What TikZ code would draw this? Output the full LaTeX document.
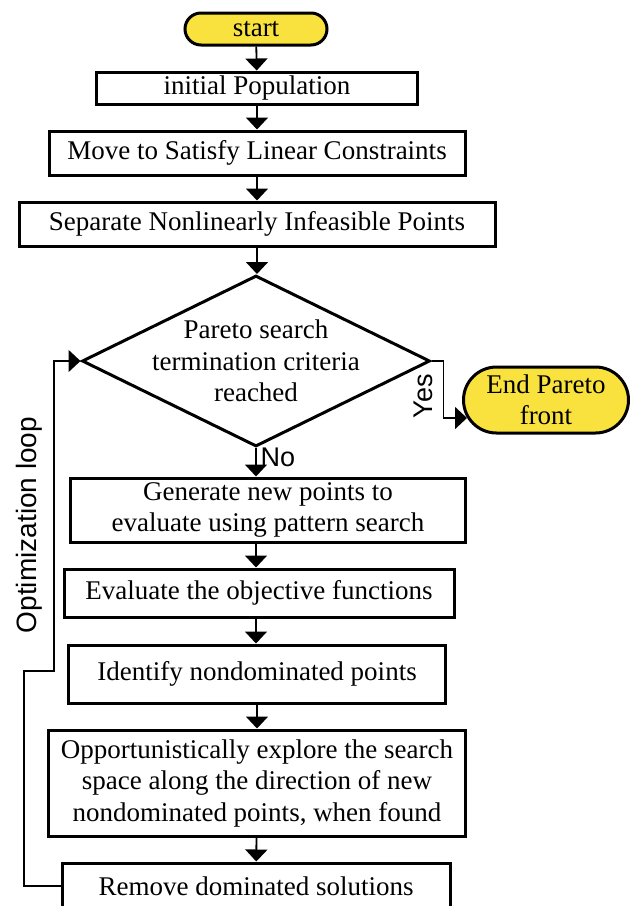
\documentclass[tikz,border=0pt]{standalone}
\usepackage{fontspec}
\setmainfont{Liberation Serif}
\setsansfont{Liberation Sans}
\usetikzlibrary{shapes.geometric,shapes.misc,arrows.meta}
\definecolor{pillyellow}{RGB}{250,226,62}

\begin{document}
\begin{tikzpicture}[x=1pt, y=-1pt,
		procbox/.style={draw, rectangle, line width=3pt, align=center, inner sep=0pt, font=\fontsize{27}{31.5}\selectfont},
		termpill/.style={draw, rounded rectangle, fill=pillyellow, line width=3pt, align=center, inner sep=0pt, font=\fontsize{27}{31.5}\selectfont},
		decide/.style={draw, diamond, line width=3pt, inner sep=0pt},
		flow/.style={line width=1.8pt, -{Triangle[width=22pt,length=12pt]}},
		tag/.style={font=\sffamily\fontsize{27}{30}\selectfont, inner sep=0pt}]
		\useasboundingbox (0,0) rectangle (631,906);
		% main column
		\node[termpill, minimum width=142pt, minimum height=32pt] (start) at (256,29) {start};
		\node[procbox, minimum width=321pt, minimum height=32pt] (init) at (257,88) {initial Population};
		\node[procbox, minimum width=416pt, minimum height=44pt] (move) at (257,153) {Move to Satisfy Linear Constraints};
		\node[procbox, minimum width=476pt, minimum height=44pt] (sep) at (257,224) {Separate Nonlinearly Infeasible Points};
		\node[decide, minimum width=348pt, minimum height=171pt,
			label={[align=center, font=\fontsize{27}{31.5}\selectfont]center:Pareto search\\termination criteria\\reached}] (crit) at (256,361) {};
		\node[termpill, minimum width=165pt, minimum height=66pt] (endp) at (546,400) {End Pareto\\front};
		\node[procbox, minimum width=395pt, minimum height=64pt] (gen) at (268,510) {Generate new points to\\evaluate using pattern search};
		\node[procbox, minimum width=390pt, minimum height=48pt] (eval) at (259,593) {Evaluate the objective functions};
		\node[procbox, minimum width=377pt, minimum height=58pt] (ident) at (257,674) {Identify nondominated points};
		\node[procbox, minimum width=417pt, minimum height=106pt] (opp) at (257,783) {Opportunistically explore the search\\space along the direction of new\\nondominated points, when found};
		\node[procbox, minimum width=388pt, minimum height=46pt] (remove) at (256,886) {Remove dominated solutions};
		% labels
		\node[tag, rotate=90] (yes) at (423,396) {Yes};
		\node[tag] (no) at (278,457) {No};
		\node[tag, rotate=90, font=\sffamily\fontsize{28}{30}\selectfont] (optloop) at (29,525) {Optimization loop};
		% connectors
		\draw[flow] (start) -- (init);
		\draw[flow] (init) -- (move);
		\draw[flow] (move) -- (sep);
		\draw[flow] (sep.south) -- (sep.south |- crit.north);
		\draw[flow] (crit.south) -- (crit.south |- gen.north);
		\draw[flow] (gen.south -| crit.south) -- (crit.south |- eval.north);
		\draw[flow] (eval.south -| crit.south) -- (crit.south |- ident.north);
		\draw[flow] (ident) -- (opp);
		\draw[flow] (opp) -- (remove);
		\draw[flow] (crit.east) -- ++(12pt,0) |- ([shift={(5pt,-18pt)}]endp.west);
		\coordinate (loopA) at (24,671);
		\coordinate (loopB) at (54,671);
		\draw[flow, line width=1.5pt] (remove.west) -| (loopA) -- (loopB) |- (crit.west);
\end{tikzpicture}
\end{document}
